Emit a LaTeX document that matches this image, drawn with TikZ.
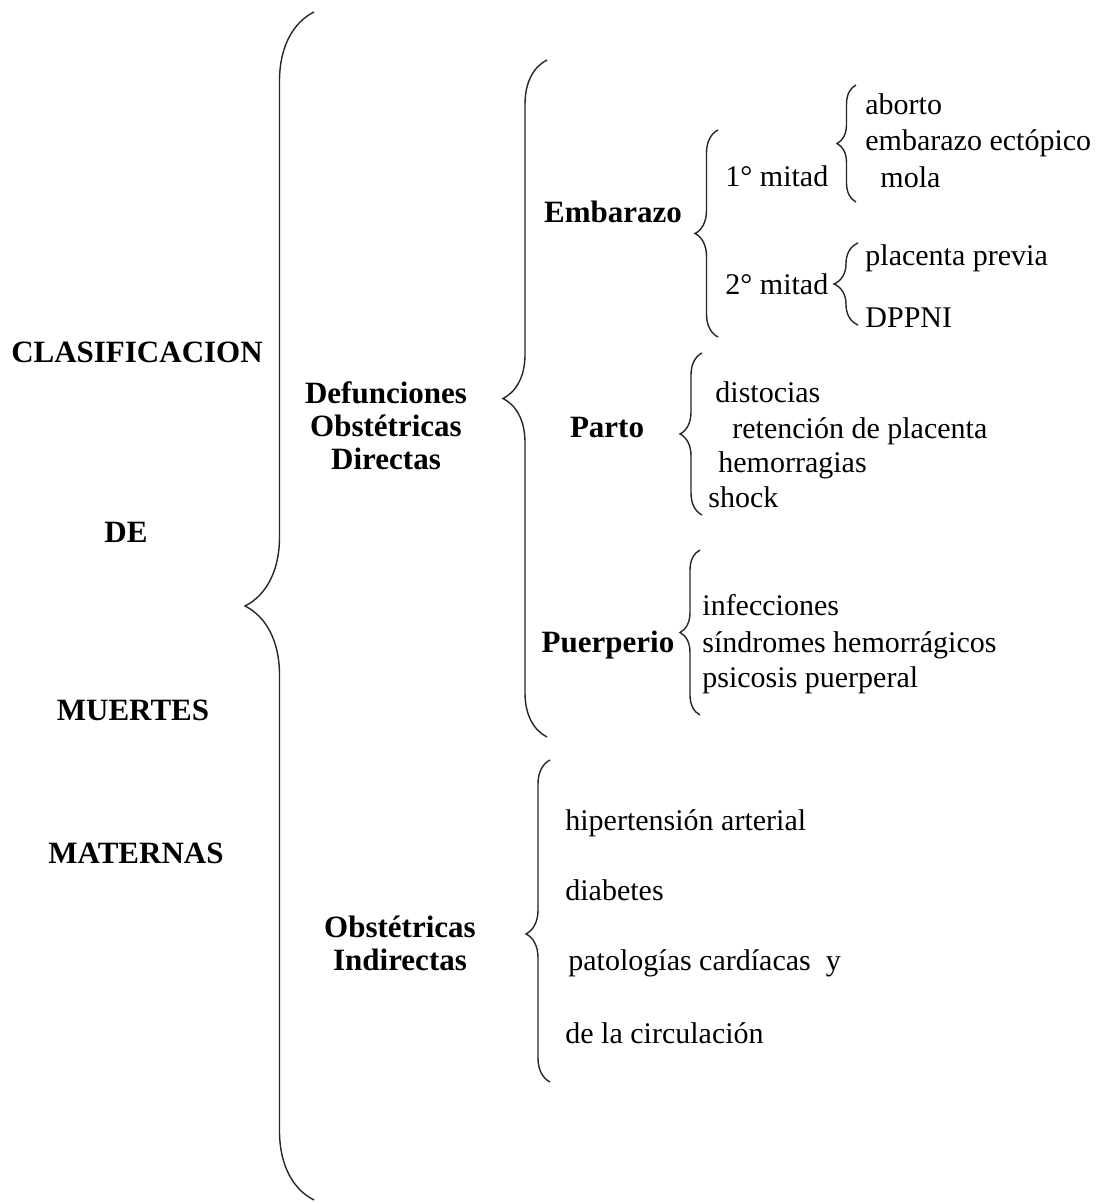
\documentclass[tikz,border=0pt]{standalone}
\usepackage{fontspec}
\setmainfont{Liberation Serif}
\usetikzlibrary{decorations.pathreplacing}

\begin{document}
\begin{tikzpicture}[x=0.5pt,y=-0.5pt,
  titulo/.style={font=\fontsize{15.5}{16.5}\selectfont\bfseries, inner sep=0pt, align=center},
  item/.style={font=\fontsize{15}{18}\selectfont, inner sep=0pt, anchor=base west},
  llave/.style={decorate, decoration={brace, amplitude=#1}, line width=0.7pt, black!85}]
  \useasboundingbox (0,0) rectangle (1115,1203);
  % columna izquierda
  \node[titulo, anchor=base] (clas) at (137,362) {CLASIFICACION};
  \node[titulo, anchor=base] (de) at (126,542) {DE};
  \node[titulo, anchor=base] (muertes) at (133,720) {MUERTES};
  \node[titulo, anchor=base] (maternas) at (136,863) {MATERNAS};
  \coordinate (gA) at (314,1200);
  \coordinate (gB) at (314,12);
  \draw[llave=34.5pt] (gA) -- (gB);
  % directas
  \node[titulo] (dod) at (386,426) {Defunciones\\Obstétricas\\Directas};
  \coordinate (dA) at (547,737);
  \coordinate (dB) at (547,60);
  \draw[llave=22pt] (dA) -- (dB);
  \node[titulo, anchor=base] (emb) at (613,223) {Embarazo};
  \node[titulo, anchor=base] (parto) at (607,437) {Parto};
  \node[titulo, anchor=base] (puerp) at (608,652) {Puerperio};
  % embarazo
  \coordinate (eA) at (718,337);
  \coordinate (eB) at (718,130);
  \draw[llave=11.5pt] (eA) -- (eB);
  \node[item] (m1) at (725,187) {1° mitad};
  \node[item] (m2) at (725,295) {2° mitad};
  \coordinate (uA) at (856,202);
  \coordinate (uB) at (856,85);
  \draw[llave=9.5pt] (uA) -- (uB);
  \node[item] (abor) at (865,115) {aborto};
  \node[item] (ecto) at (865,151) {embarazo ectópico};
  \node[item] (mola) at (880,188) {mola};
  \coordinate (sA) at (858,325);
  \coordinate (sB) at (858,243);
  \draw[llave=12pt] (sA) -- (sB);
  \node[item] (prev) at (865,266) {placenta previa};
  \node[item] (dppni) at (865,328) {DPPNI};
  % parto
  \coordinate (pA) at (702,515);
  \coordinate (pB) at (702,353);
  \draw[llave=11pt] (pA) -- (pB);
  \node[item] (dist) at (715,402) {distocias};
  \node[item] (ret) at (732,438) {retención de placenta};
  \node[item] (hem) at (718,472) {hemorragias};
  \node[item] (shock) at (708,507) {shock};
  % puerperio
  \coordinate (qA) at (700,715);
  \coordinate (qB) at (700,550);
  \draw[llave=10pt] (qA) -- (qB);
  \node[item] (inf) at (702,615) {infecciones};
  \node[item] (sind) at (702,652) {síndromes hemorrágicos};
  \node[item] (psic) at (702,687) {psicosis puerperal};
  % indirectas
  \node[titulo] (oi) at (400,943) {Obstétricas\\Indirectas};
  \coordinate (iA) at (550,1082);
  \coordinate (iB) at (550,760);
  \draw[llave=12pt, decoration={aspect=0.46}] (iA) -- (iB);
  \node[item] (hta) at (565,830) {hipertensión arterial};
  \node[item] (diab) at (565,900) {diabetes};
  \node[item] (card) at (568,970) {patologías cardíacas\ \ y};
  \node[item] (circ) at (565,1043) {de la circulación};
\end{tikzpicture}
\end{document}
